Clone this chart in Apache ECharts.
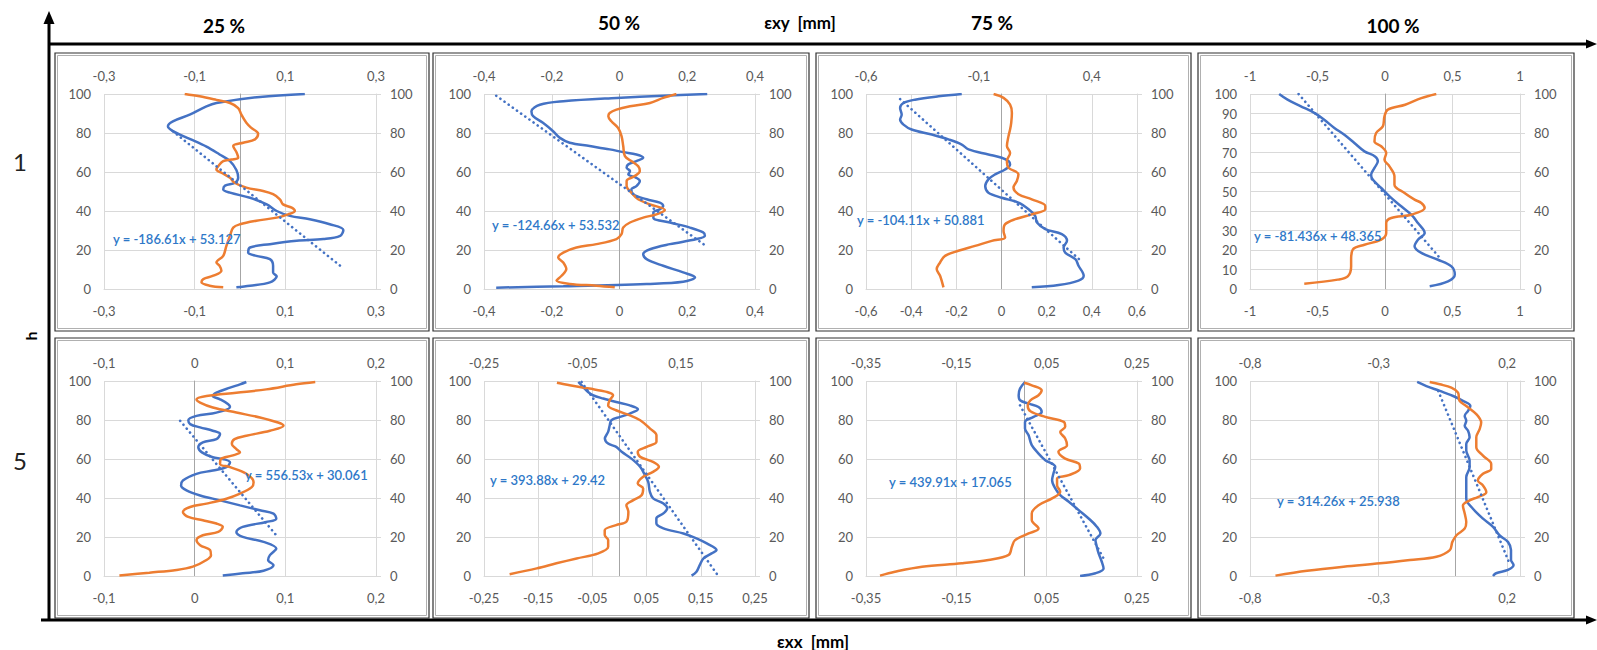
<!DOCTYPE html>
<html><head><meta charset="utf-8">
<script src="https://cdn.jsdelivr.net/npm/echarts@6/dist/echarts.min.js"></script>
<style>html,body{margin:0;padding:0;background:#fff}#c{width:1597px;height:650px}</style>
</head><body><div id="c"></div><script>
// ---- DATA: pairs are [height h, strain] ----
const panelTitles = ['25 %', '50 %', '75 %', '100 %'];
const rowLabels = ['1', '5'];
const equations = ['y = -186.61x + 53.127','y = -124.66x + 53.532','y = -104.11x + 50.881','y = -81.436x + 48.365',
                   'y = 556.53x + 30.061','y = 393.88x + 29.42','y = 439.91x + 17.065','y = 314.26x + 25.938'];
// x-axis ranges [min, max, step]
const bottomAxis = [[-0.3,0.3,0.2],[-0.4,0.4,0.2],[-0.6,0.6,0.2],[-1,1,0.5],[-0.1,0.2,0.1],[-0.25,0.25,0.1],[-0.35,0.25,0.2],[-0.8,0.25,0.5]];
const topAxis    = [[-0.3,0.3,0.2],[-0.4,0.4,0.2],[-0.6,0.6,0.5],[-1,1,0.5],[-0.1,0.2,0.1],[-0.25,0.3,0.2],[-0.35,0.25,0.2],[-0.8,0.25,0.5]];
const leftStep = [20,20,20,10,20,20,20,20];

const blue1 = [[100,0.143],[98.5,0.044],[95.4,-0.052],[93.7,-0.074],[89.4,-0.111],[86,-0.148],[83.5,-0.159],[81,-0.148],[77,-0.111],[73,-0.074],[69,-0.045],[65.6,-0.022],[61,-0.008],[57,-0.004],[54.5,-0.011],[53,-0.033],[51,-0.037],[49.4,-0.022],[46.8,0.022],[43.4,0.059],[40,0.081],[37.5,0.110],[35.8,0.154],[33.2,0.198],[30.3,0.228],[27.3,0.221],[25.6,0.184],[24.7,0.125],[23,0.066],[21.3,0.022],[18.7,0.018],[17,0.036],[15.3,0.066],[11.9,0.073],[8.5,0.073],[6.5,0.081],[3.4,0.066],[1.7,0.022],[0.9,-0.008]];
const orange1 = [[100,-0.122],[98.8,-0.089],[97,-0.052],[95.4,-0.022],[92.8,-0.004],[89.4,0.003],[85.2,0.014],[82.6,0.025],[79.7,0.040],[76.7,0.033],[75,0.007],[73.3,-0.015],[69.8,-0.007],[67.3,-0.004],[66.4,-0.019],[65.6,-0.037],[63,-0.048],[61.3,-0.052],[59.6,-0.041],[57,-0.022],[54.5,-0.012],[52,0.014],[50.3,0.051],[48.6,0.073],[46,0.088],[43.4,0.095],[41.7,0.114],[40,0.121],[38.3,0.106],[36.6,0.081],[35,0.036],[33.2,0.000],[31.5,-0.015],[27.3,-0.022],[22.1,-0.030],[17,-0.037],[13.6,-0.052],[11.9,-0.045],[9.4,-0.041],[6.8,-0.059],[5.1,-0.081],[3.4,-0.085],[1.7,-0.067],[0.9,-0.037]];
const blue2 = [[100,0.259],[99.1,0.129],[98,-0.009],[96.3,-0.166],[94.5,-0.235],[91.1,-0.260],[88.6,-0.255],[85.2,-0.226],[80.9,-0.196],[77.5,-0.176],[75,-0.147],[73.3,-0.088],[71.6,-0.029],[70.2,0.011],[69,0.050],[67.3,0.070],[65.6,0.050],[63.9,0.026],[62.2,0.021],[60.5,0.031],[58.8,0.026],[57,0.050],[55.4,0.060],[52.8,0.050],[51.1,0.035],[48.6,0.040],[46,0.080],[44.3,0.119],[42.6,0.129],[40.9,0.119],[39.2,0.100],[36.6,0.100],[34.1,0.149],[31.5,0.208],[29,0.247],[27.3,0.252],[25.6,0.228],[23,0.149],[20.4,0.090],[17.9,0.070],[15.3,0.080],[11.9,0.129],[8.5,0.188],[6,0.223],[3.7,0.188],[2.6,0.080],[1.4,-0.166],[0.7,-0.364]];
const orange2 = [[100,0.168],[98,0.129],[95.4,0.090],[93.7,0.031],[92,-0.009],[90.3,-0.029],[88.6,-0.033],[86,-0.024],[82.6,-0.004],[78.4,0.006],[73.3,0.011],[68.1,0.016],[65.6,0.035],[63,0.055],[60.5,0.060],[57.9,0.045],[55.4,0.021],[52.8,0.021],[49.4,0.035],[46,0.055],[43.4,0.090],[40.5,0.134],[38.3,0.109],[36.6,0.070],[34.1,0.031],[31.5,0.011],[28.1,0.006],[25.6,-0.009],[23,-0.068],[21.3,-0.127],[18.7,-0.166],[16.2,-0.181],[13.6,-0.166],[10.2,-0.157],[6.8,-0.171],[4.3,-0.186],[2.6,-0.147],[1.7,-0.068],[0.85,-0.014]];
const blue3 = [[100,-0.176],[98.8,-0.279],[97.1,-0.383],[95.4,-0.434],[92.8,-0.449],[89.4,-0.442],[86.9,-0.449],[84.3,-0.434],[81.8,-0.398],[79.2,-0.309],[76.7,-0.235],[74.1,-0.176],[71.6,-0.146],[69,-0.058],[67.3,0.001],[65.6,0.031],[63.9,0.038],[61.3,0.016],[58.8,-0.028],[56.2,-0.058],[52.8,-0.072],[49.4,-0.058],[46.8,0.001],[44.3,0.075],[40.9,0.120],[37.5,0.149],[34.1,0.157],[30.7,0.194],[28.1,0.267],[24.7,0.290],[21.3,0.275],[18.7,0.282],[15.3,0.327],[11.9,0.341],[6.8,0.364],[4.3,0.341],[2,0.253],[0.85,0.134]];
const orange3 = [[100,-0.035],[98,0.009],[94.5,0.038],[90.3,0.046],[85.2,0.043],[81.8,0.038],[78.4,0.031],[73.3,0.024],[69.8,0.038],[65.6,0.024],[62.2,0.031],[58.8,0.075],[55.4,0.068],[52,0.053],[48.6,0.075],[46,0.134],[42.6,0.194],[40.9,0.194],[38.3,0.134],[35.8,0.061],[33.2,0.016],[29.8,0.009],[26.4,0.016],[24.7,-0.043],[22.1,-0.117],[19.6,-0.191],[17,-0.250],[13.6,-0.272],[10.2,-0.287],[6.8,-0.272],[0.85,-0.257]];
const blue4 = [[100,-0.784],[97.1,-0.722],[93.7,-0.623],[90.3,-0.524],[86.8,-0.450],[82.6,-0.375],[79.1,-0.301],[74.9,-0.227],[70.6,-0.152],[68,-0.074],[65.5,-0.053],[62.1,-0.078],[58.6,-0.103],[56.1,-0.091],[51.8,-0.028],[46.7,0.046],[42.4,0.120],[38.1,0.195],[33.8,0.244],[28.7,0.294],[25.3,0.244],[21.9,0.219],[18.5,0.269],[15,0.393],[11.6,0.492],[7.4,0.517],[3.9,0.467],[1.4,0.331]];
const orange4 = [[100,0.380],[97.9,0.269],[94.5,0.149],[92,0.021],[88.5,-0.004],[83.4,-0.016],[80,-0.066],[75.7,-0.078],[73.2,-0.028],[69.7,0.009],[66.3,-0.004],[62.9,0.033],[57.8,0.070],[53.5,0.070],[49.2,0.145],[45.8,0.219],[44.1,0.269],[41.5,0.294],[38.1,0.195],[36.4,0.046],[33.8,0.009],[28.7,0.009],[25.3,-0.028],[22.7,-0.152],[20.2,-0.239],[15,-0.251],[11.6,-0.251],[6.5,-0.276],[4.8,-0.350],[2.7,-0.598]];
const blue5 = [[99.5,0.057],[98.3,0.050],[96.6,0.039],[94,0.024],[92.3,0.020],[90.6,0.028],[88.1,0.037],[86.7,0.039],[83.8,0.024],[82.1,0.002],[79.9,-0.007],[77.9,-0.005],[76.2,0.006],[74.5,0.020],[72.8,0.028],[70.2,0.024],[68.5,0.009],[66,0.004],[63.4,0.008],[60.9,0.020],[60,0.031],[58.3,0.039],[55.8,0.035],[54.1,0.020],[52.4,0.002],[49,-0.013],[46.4,-0.015],[43.9,-0.009],[41.3,0.006],[38.8,0.028],[36.2,0.050],[33.7,0.072],[32,0.087],[29.4,0.090],[27.7,0.079],[25.2,0.053],[22.6,0.046],[20.1,0.053],[17.5,0.076],[14.1,0.090],[10.7,0.083],[8.2,0.081],[5.6,0.087],[2.7,0.076],[1.4,0.053],[0.2,0.031]];
const orange5 = [[99.5,0.133],[98.3,0.112],[95.7,0.079],[94,0.046],[92.3,0.013],[90.6,0.002],[88.9,0.006],[86.4,0.020],[83.8,0.046],[81.3,0.072],[78.7,0.092],[77,0.098],[74.5,0.083],[71.9,0.057],[70.2,0.044],[67.7,0.041],[65.1,0.046],[63.4,0.050],[61.7,0.041],[60,0.029],[57.5,0.028],[55.8,0.039],[52.4,0.057],[48.1,0.065],[45.6,0.063],[42.2,0.050],[39.6,0.035],[37.1,0.013],[35.4,-0.005],[32.8,-0.013],[30.3,-0.007],[28.6,0.009],[26.9,0.024],[25.2,0.031],[22.6,0.026],[20.9,0.009],[18.4,0.002],[15.8,0.006],[13.3,0.017],[10.7,0.018],[8.2,0.013],[4.8,-0.002],[3.1,-0.020],[1.7,-0.050],[0.2,-0.083]];
const blue6 = [[99.5,-0.076],[96.9,-0.067],[94.4,-0.058],[92.7,-0.049],[91,-0.030],[89.2,-0.006],[87.5,0.019],[85.5,0.034],[83.3,0.019],[81.6,0.001],[79.9,-0.015],[77.3,-0.018],[73.9,-0.021],[70.5,-0.027],[67.9,-0.021],[66.2,-0.006],[63.7,0.004],[60.2,0.022],[56,0.038],[51.7,0.047],[48.3,0.053],[43.2,0.056],[39.8,0.062],[37.2,0.081],[34.6,0.088],[32.1,0.081],[29.5,0.068],[27,0.068],[24.4,0.081],[21.8,0.118],[19.3,0.142],[16.7,0.161],[13.3,0.179],[11.6,0.170],[9,0.155],[5.6,0.148],[2.2,0.142],[0.2,0.133]];
const orange6 = [[99.1,-0.102],[97.8,-0.076],[96.1,-0.036],[94.4,-0.001],[92.7,0.012],[90.1,0.005],[87.5,0.002],[85,0.018],[82.4,0.046],[79.9,0.067],[75.6,0.087],[72.2,0.100],[68.8,0.100],[66.2,0.080],[63.7,0.062],[61.1,0.067],[58.5,0.093],[56,0.105],[53.4,0.093],[50.9,0.073],[47.4,0.062],[44.9,0.073],[41.5,0.070],[38.9,0.053],[36.3,0.039],[32.9,0.043],[27.8,0.039],[26.1,0.018],[23.5,-0.005],[21,-0.005],[18.4,0.002],[15,0.002],[11.6,-0.018],[9,-0.062],[6.5,-0.103],[3.9,-0.143],[0.9,-0.198]];
const blue7 = [[99.5,0.002],[96.1,-0.009],[92.7,-0.012],[90.1,-0.009],[88.4,0.010],[86.7,0.032],[84.1,0.039],[81.6,0.021],[79,0.002],[75.6,0.002],[72.2,0.010],[67.1,0.017],[62.8,0.032],[59.4,0.047],[56,0.069],[52.6,0.065],[49.1,0.062],[44.9,0.069],[41.5,0.080],[38.1,0.099],[33.8,0.121],[29.5,0.143],[25.3,0.161],[21.8,0.169],[18.4,0.158],[15,0.161],[11.6,0.165],[7.3,0.172],[3.9,0.176],[1.4,0.158],[0,0.124]];
const orange7 = [[99.1,0.000],[97.8,0.017],[95.2,0.039],[92.7,0.032],[90.1,0.014],[87.5,0.008],[84.5,0.014],[81.6,0.047],[79,0.088],[76.5,0.091],[73.9,0.080],[70.5,0.091],[67.1,0.095],[63.7,0.076],[60.2,0.091],[57.7,0.121],[55.1,0.124],[51.7,0.099],[50,0.073],[46.6,0.073],[43.2,0.080],[39.8,0.062],[36.3,0.032],[32.1,0.017],[28.7,0.017],[24.4,0.032],[21.8,0.010],[18.4,-0.020],[15,-0.027],[10.8,-0.034],[8.2,-0.079],[6.5,-0.138],[4.8,-0.226],[2.2,-0.286],[0.2,-0.319]];
const blue8 = [[99.5,-0.150],[97.4,-0.114],[94.9,-0.062],[92.3,-0.010],[89.8,0.028],[87.2,0.057],[84.7,0.048],[82.1,0.035],[79.6,0.041],[77,0.035],[74.5,0.048],[71.1,0.054],[67.7,0.041],[64.3,0.041],[59.2,0.054],[55.8,0.054],[50.7,0.041],[45.6,0.041],[39.6,0.041],[34.5,0.067],[29.4,0.106],[25.2,0.145],[20.9,0.170],[17.5,0.203],[13.3,0.215],[8.2,0.215],[5.6,0.225],[3.1,0.203],[1.4,0.157],[0,0.145]];
const orange8 = [[99.5,-0.101],[98.3,-0.062],[96.6,-0.017],[94,0.009],[89.8,0.015],[87.2,0.041],[83,0.080],[78.7,0.099],[75.3,0.093],[71.1,0.080],[66,0.080],[61.7,0.106],[57.5,0.138],[54.9,0.138],[52.4,0.106],[49,0.086],[46.4,0.106],[43,0.119],[40.5,0.086],[38.8,0.054],[36.2,0.028],[32,0.035],[27.7,0.041],[24.3,0.035],[20.9,0.003],[17.5,-0.013],[13.3,-0.023],[9.9,-0.075],[8.2,-0.178],[6.5,-0.294],[4.8,-0.436],[2.7,-0.578],[0.2,-0.701]];
// trend line end points [h, strain]
const trend1 = [[80.9,-0.148],[10.6,0.228]];
const trend2 = [[99.1,-0.364],[22.1,0.255]];
const trend3 = [[97.4,-0.449],[14,0.356]];
const trend4 = [[100,-0.64],[15,0.418]];
const trend5 = [[79.6,-0.016],[20.9,0.090]];
const trend6 = [[99.5,-0.070],[0.9,0.180]];
const trend7 = [[87.5,-0.009],[7.3,0.180]];
const trend8 = [[94.9,-0.068],[6.5,0.209]];

const blues = [blue1,blue2,blue3,blue4,blue5,blue6,blue7,blue8];
const oranges = [orange1,orange2,orange3,orange4,orange5,orange6,orange7,orange8];
const trends = [trend1,trend2,trend3,trend4,trend5,trend6,trend7,trend8];

// ---- LAYOUT ----
const gridLeft = [104, 484, 866, 1250];
const gridWidth = [272, 271, 271, 270];
const gridTop = [94, 381];
const gridHeight = 195;
const panelX = [55, 433, 816, 1198], panelW = [374, 376, 375, 376];
const panelY = [53, 338], panelH = [278, 280];
const eqPos = [[113,239],[492,225],[857,220],[1254,236],[245,475],[490,480],[889,482],[1277,501]];

const BLUE = '#4472C4', ORANGE = '#ED7D31', GRID = '#d9d9d9', LBL = '#595959';
const FONT = 'Lato, "Open Sans", sans-serif';
const fmt = v => String(Math.round(v * 1000) / 1000).replace('.', ',');
const flip = arr => arr.map(p => [p[1], p[0]]);

const grids = [], xAxes = [], yAxes = [], series = [];
for (let i = 0; i < 8; i++) {
  const col = i % 4, row = Math.floor(i / 4);
  grids.push({left: gridLeft[col], top: gridTop[row], width: gridWidth[col], height: gridHeight, containLabel: false});
  const b = bottomAxis[i], t = topAxis[i];
  const aligned = a => Math.abs((a[1]-a[0])/a[2] - Math.round((a[1]-a[0])/a[2])) < 1e-6;
  xAxes.push({type:'value', gridIndex:i, position:'bottom', min:b[0], max:b[1], interval:b[2],
    axisLine:{show:true, onZero:false, lineStyle:{color:GRID, width:1}}, axisTick:{show:false},
    splitLine:{show:true, lineStyle:{color:GRID, width:1}},
    axisLabel:{margin:15, color:LBL, fontSize:13, fontFamily:FONT, formatter:fmt, showMaxLabel: aligned(b) ? null : false}});
  xAxes.push({type:'value', gridIndex:i, position:'top', min:t[0], max:t[1], interval:t[2],
    axisLine:{show:false, onZero:false}, axisTick:{show:false}, splitLine:{show:false},
    axisLabel:{margin:12, color:LBL, fontSize:13, fontFamily:FONT, formatter:fmt, showMaxLabel: aligned(t) ? null : false}});
  yAxes.push({type:'value', gridIndex:i, position:'left', min:0, max:100, interval:leftStep[i],
    axisLine:{show:false, onZero:false}, axisTick:{show:false},
    splitLine:{show:true, lineStyle:{color:GRID, width:1}},
    axisLabel:{margin:13, color:LBL, fontSize:13, fontFamily:FONT}});
  yAxes.push({type:'value', gridIndex:i, position:'right', min:0, max:100, interval:20,
    axisLine:{show:true, onZero:false, lineStyle:{color:GRID}}, axisTick:{show:true, length:5, lineStyle:{color:GRID}},
    splitLine:{show:false},
    axisLabel:{margin:14, color:LBL, fontSize:13, fontFamily:FONT}});
  yAxes.push({type:'value', gridIndex:i, position:'left', min:0, max:100,
    axisLine:{show:true, onZero:true, lineStyle:{color:'#a6a6a6', width:1}}, axisTick:{show:false},
    splitLine:{show:false}, axisLabel:{show:false}});
  series.push({type:'line', xAxisIndex:2*i, yAxisIndex:3*i, data:flip(blues[i]), symbol:'none', smooth:0.35,
    lineStyle:{color:BLUE, width:2.5}, z:3});
  series.push({type:'line', xAxisIndex:2*i+1, yAxisIndex:3*i, data:flip(oranges[i]), symbol:'none', smooth:0.35,
    lineStyle:{color:ORANGE, width:2.5}, z:4});
  series.push({type:'line', xAxisIndex:2*i, yAxisIndex:3*i, data:flip(trends[i]), symbol:'none',
    lineStyle:{color:BLUE, width:2.6, type:[0.1,5], cap:'round'}, z:5});
}

const graphic = [];
const txt = (text, x, y, font, fill, align, extra) => Object.assign({type:'text', x, y, z:100,
  style:{text, font, fill, textAlign:align||'center', textVerticalAlign:'middle', align:align||'center', verticalAlign:'middle'}}, extra||{});
// panel frames
for (let r = 0; r < 2; r++) for (let c = 0; c < 4; c++) {
  graphic.push({type:'rect', z:50, shape:{x:panelX[c], y:panelY[r], width:panelW[c], height:panelH[r]}, style:{fill:null, stroke:'#303030', lineWidth:1.2}});
  graphic.push({type:'rect', z:50, shape:{x:panelX[c]+2.5, y:panelY[r]+2.5, width:panelW[c]-5, height:panelH[r]-5}, style:{fill:null, stroke:'#b0b0b0', lineWidth:1}});
}
// main axes with arrows
graphic.push({type:'line', z:60, shape:{x1:49, y1:22, x2:49, y2:621}, style:{stroke:'#000', lineWidth:3}});
graphic.push({type:'polygon', z:60, shape:{points:[[49,11],[43.5,24],[54.5,24]]}, style:{fill:'#000'}});
graphic.push({type:'line', z:60, shape:{x1:49, y1:44, x2:1588, y2:44}, style:{stroke:'#000', lineWidth:3}});
graphic.push({type:'polygon', z:60, shape:{points:[[1597,44],[1586,39.5],[1586,48.5]]}, style:{fill:'#000'}});
graphic.push({type:'line', z:60, shape:{x1:41, y1:620, x2:1588, y2:620}, style:{stroke:'#000', lineWidth:3}});
graphic.push({type:'polygon', z:60, shape:{points:[[1597,620],[1586,615.5],[1586,624.5]]}, style:{fill:'#000'}});
// titles
const titleX = [224, 619, 992, 1393], titleY = [25, 22, 22, 25];
panelTitles.forEach((t, k) => graphic.push(txt(t, titleX[k], titleY[k], 'bold 19px ' + FONT, '#000')));
graphic.push(txt('εxy  [mm]', 800, 22, 'bold 17px ' + FONT, '#000'));
graphic.push(txt('εxx  [mm]', 813, 641, 'bold 17px ' + FONT, '#000'));
graphic.push(txt(rowLabels[0], 20, 161, '24px ' + FONT, '#222'));
graphic.push(txt(rowLabels[1], 20, 460, '24px ' + FONT, '#222'));
graphic.push(txt('h', 30, 336, 'bold 16px ' + FONT, '#000', 'center', {rotation: Math.PI / 2}));
// equations
equations.forEach((e, k) => graphic.push(txt(e, eqPos[k][0], eqPos[k][1], '600 13px ' + FONT, '#2e78c8', 'left')));

const chart = echarts.init(document.getElementById('c'), null, {renderer:'svg', width:1597, height:650});
chart.setOption({animation:false, backgroundColor:'#fff', grid:grids, xAxis:xAxes, yAxis:yAxes, series, graphic:{elements:graphic}});
</script></body></html>
